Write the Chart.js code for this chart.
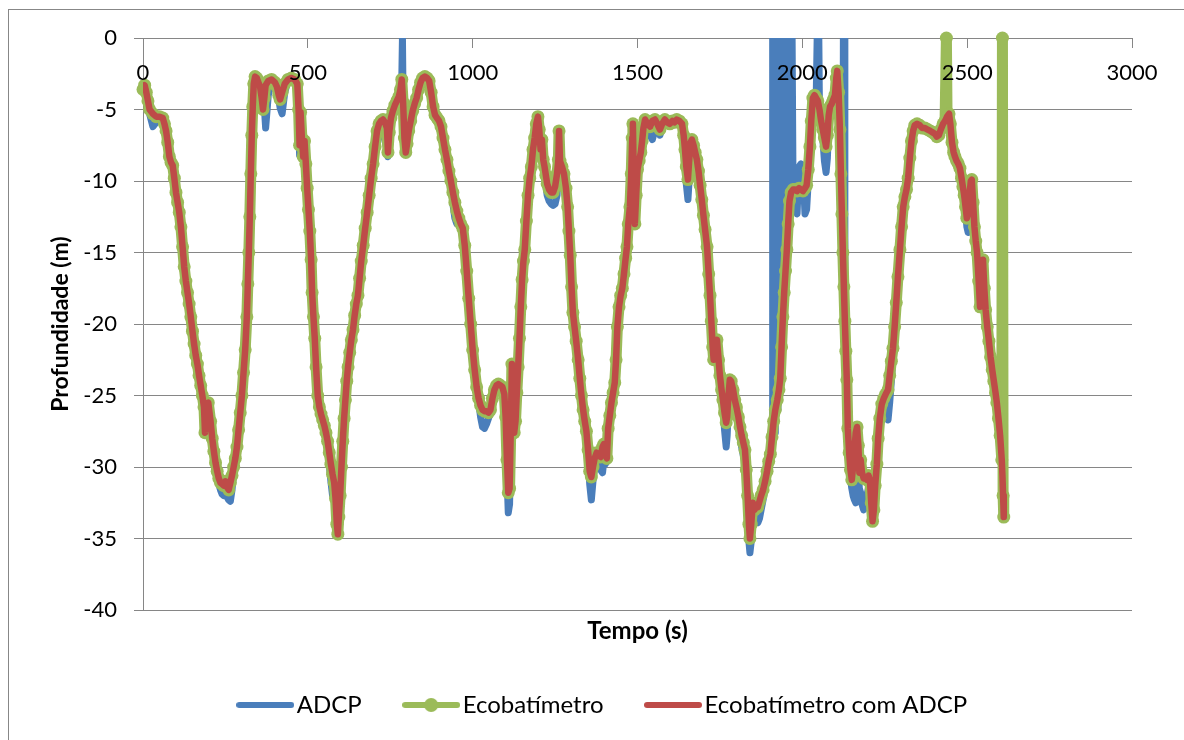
<!DOCTYPE html>
<html><head><meta charset="utf-8">
<script src="https://cdn.jsdelivr.net/npm/chart.js@4.4.1/dist/chart.umd.min.js"></script>
<style>
html,body{margin:0;padding:0;background:#fff;}
#wrap{position:relative;width:1184px;height:740px;overflow:hidden;background:#fff;}
#frame{position:absolute;left:8px;top:9px;width:1220px;height:780px;border-left:1px solid #878787;border-top:1px solid #878787;}
canvas{position:absolute;left:0;top:0;}
</style></head><body>
<div id="wrap"><div id="frame"></div><canvas id="c" width="1184" height="740"></canvas></div>
<script>
// ---- data ----
const tempo = [
0,5,10,15,20,30,40,50,60,65,
70,75,80,85,90,95,100,105,110,115,
120,125,130,135,140,145,150,155,160,165,
170,175,180,185,188,192,198,205,210,215,
220,225,230,235,240,245,250,255,260,265,
270,275,280,285,290,295,300,305,310,315,
318,321,324,327,330,333,336,340,345,350,
355,360,364,368,372,380,390,400,406,412,
416,422,430,440,450,460,468,472,475,478,
482,486,490,494,498,502,506,510,513,517,
521,525,530,535,540,545,550,555,560,565,
570,575,580,584,588,591,594,598,602,606,
610,614,618,622,627,632,637,642,647,652,
657,662,668,674,680,686,692,698,704,710,
716,722,728,734,740,743,747,752,758,764,
770,776,781,785,789,793,797,801,806,812,
818,824,830,836,842,848,855,862,868,874,
880,886,892,898,904,910,916,922,928,934,
940,946,952,958,964,970,976,982,988,994,
1000,1006,1012,1018,1024,1030,1036,1042,1048,1054,
1060,1066,1072,1078,1084,1090,1096,1100,1104,1108,
1112,1116,1119,1122,1126,1130,1134,1138,1142,1146,
1150,1154,1158,1163,1168,1173,1178,1183,1188,1193,
1198,1202,1206,1210,1214,1218,1222,1226,1232,1238,
1244,1250,1256,1260,1262,1265,1271,1277,1283,1288,
1292,1296,1300,1304,1309,1314,1320,1325,1330,1335,
1340,1345,1350,1355,1360,1365,1370,1376,1382,1388,
1394,1398,1402,1407,1411,1416,1421,1426,1431,1435,
1439,1444,1449,1454,1459,1464,1468,1472,1477,1481,
1484,1486,1489,1492,1496,1500,1505,1510,1514,1518,
1523,1530,1538,1545,1553,1560,1568,1575,1583,1590,
1598,1606,1612,1619,1627,1635,1640,1644,1648,1653,
1657,1661,1665,1670,1675,1680,1685,1690,1695,1700,
1705,1711,1716,1720,1724,1728,1731,1735,1741,1746,
1750,1755,1759,1764,1769,1772,1776,1780,1784,1790,
1795,1800,1806,1811,1816,1821,1826,1830,1834,1838,
1841,1845,1850,1855,1860,1865,1870,1875,1881,1887,
1893,1898,1903,1908,1913,1918,1924,1929,1933,1937,
1941,1945,1949,1953,1957,1961,1966,1972,1978,1984,
1990,1996,2002,2008,2013,2018,2023,2027,2032,2037,
2042,2047,2052,2057,2062,2067,2072,2076,2080,2084,
2089,2094,2099,2103,2106,2110,2114,2117,2120,2123,
2126,2129,2132,2135,2138,2142,2146,2150,2154,2158,
2162,2166,2170,2173,2177,2181,2186,2191,2196,2201,
2205,2209,2213,2217,2221,2226,2230,2235,2241,2247,
2253,2260,2265,2270,2275,2280,2285,2290,2296,2301,
2306,2311,2316,2321,2326,2331,2336,2341,2348,2356,
2364,2372,2380,2388,2395,2402,2408,2414,2420,2427,
2433,2437,2439,2445,2449,2454,2459,2463,2468,2473,
2478,2483,2487,2491,2495,2499,2503,2507,2511,2514,
2518,2522,2526,2530,2535,2539,2543,2548,2552,2556,
2561,2566,2571,2576,2581,2586,2590,2595,2600,2605,
2607,2609,2611
];

const profEcoComADCP = [
-3.6,-3.3,-3.8,-4.4,-5.0,-5.3,-5.5,-5.5,-5.6,-6.0,
-6.5,-7.3,-8.3,-8.7,-8.9,-9.8,-10.8,-11.5,-12.2,-13.2,
-14.6,-16.0,-17.0,-17.8,-18.6,-19.5,-20.5,-21.4,-22.2,-22.8,
-23.6,-24.3,-25.0,-25.8,-27.6,-25.6,-25.5,-26.8,-28.0,-28.9,
-29.7,-30.3,-30.8,-31.1,-31.2,-31.3,-31.0,-31.4,-31.6,-31.1,
-30.6,-30.0,-29.4,-28.6,-27.4,-26.2,-25.0,-23.4,-21.8,-19.5,
-17.2,-15.0,-12.5,-9.5,-6.8,-4.8,-3.2,-2.7,-2.8,-3.1,
-3.4,-4.2,-5.0,-4.2,-3.3,-3.0,-2.9,-3.1,-3.4,-4.0,
-4.3,-3.8,-3.2,-2.9,-2.8,-2.9,-3.2,-5.0,-7.5,-5.2,
-7.0,-8.3,-7.2,-8.8,-10.5,-12.0,-13.5,-15.5,-17.8,-19.5,
-21.0,-23.0,-25.0,-25.8,-26.3,-26.7,-27.1,-27.6,-28.2,-29.0,
-29.8,-30.5,-31.1,-32.2,-34.0,-34.7,-33.5,-32.0,-30.0,-28.2,
-26.6,-25.3,-24.0,-23.0,-22.0,-21.1,-20.4,-19.4,-18.6,-18.0,
-16.8,-15.6,-14.5,-13.3,-12.2,-11.0,-9.8,-8.8,-7.6,-6.5,
-6.0,-5.8,-5.7,-5.9,-6.3,-8.0,-6.6,-5.6,-5.1,-4.7,
-4.4,-4.1,-3.6,-2.9,-4.5,-7.0,-8.0,-7.4,-6.5,-5.8,
-5.1,-4.6,-4.2,-3.6,-3.1,-2.8,-2.7,-2.8,-3.0,-3.8,
-4.8,-5.4,-5.6,-5.8,-6.2,-7.0,-7.8,-8.5,-9.3,-10.0,
-10.8,-11.5,-12.1,-12.6,-13.0,-13.3,-14.5,-16.3,-18.2,-20.0,
-21.8,-23.2,-24.4,-25.2,-25.7,-26.0,-26.1,-26.1,-26.2,-26.0,
-25.2,-24.6,-24.3,-24.2,-24.3,-24.4,-24.9,-26.5,-29.5,-31.8,
-31.5,-27.0,-22.8,-25.5,-27.6,-26.8,-24.8,-23.0,-21.0,-18.8,
-16.9,-15.6,-14.8,-12.8,-11.0,-9.8,-9.0,-7.8,-7.0,-6.0,
-5.5,-6.4,-7.8,-7.1,-8.5,-9.0,-9.6,-10.2,-10.6,-10.8,
-10.8,-10.4,-9.5,-8.5,-6.5,-8.6,-9.0,-9.5,-10.5,-11.8,
-13.5,-15.2,-17.4,-19.2,-20.2,-21.2,-22.5,-23.8,-25.0,-26.0,
-26.8,-27.5,-28.8,-30.3,-30.7,-30.0,-29.4,-29.0,-29.2,-29.3,
-28.6,-28.4,-29.0,-29.4,-27.3,-26.4,-25.5,-24.8,-24.1,-22.5,
-20.2,-18.8,-18.0,-17.5,-16.5,-15.4,-14.6,-13.0,-11.8,-9.5,
-7.0,-6.0,-10.0,-13.0,-11.0,-9.2,-8.6,-8.0,-7.2,-6.3,
-5.7,-6.0,-6.2,-5.8,-5.7,-6.0,-6.4,-6.0,-5.7,-5.9,
-6.0,-5.8,-5.9,-5.7,-5.8,-6.0,-6.8,-7.8,-9.0,-9.9,
-8.5,-7.3,-7.1,-7.5,-8.0,-8.5,-9.3,-10.3,-11.3,-12.4,
-13.4,-14.6,-16.5,-18.0,-19.8,-21.6,-22.5,-21.5,-21.1,-22.5,
-23.6,-24.6,-25.3,-26.2,-26.9,-26.5,-25.0,-23.9,-24.0,-24.6,
-25.3,-25.8,-26.5,-27.2,-27.8,-28.3,-28.8,-30.2,-32.0,-34.0,
-35.0,-34.0,-32.5,-33.0,-32.7,-32.8,-32.4,-32.0,-31.6,-31.0,
-30.3,-29.6,-29.1,-27.9,-26.8,-26.0,-25.3,-24.6,-23.8,-21.6,
-19.5,-17.8,-16.3,-14.8,-13.0,-11.4,-10.8,-10.6,-10.6,-10.7,
-10.5,-10.6,-10.7,-10.5,-10.3,-9.2,-7.6,-5.8,-4.2,-4.0,
-4.2,-4.4,-5.0,-5.8,-6.4,-7.0,-7.6,-6.8,-5.4,-4.8,
-4.6,-4.3,-4.0,-2.8,-2.3,-3.8,-6.4,-9.5,-12.3,-15.0,
-17.4,-19.8,-21.9,-23.9,-27.3,-29.0,-30.2,-30.9,-30.0,-28.8,
-27.6,-27.2,-28.5,-30.4,-29.5,-30.4,-30.8,-30.7,-30.9,-30.6,
-30.9,-32.5,-33.8,-33.0,-31.3,-29.8,-28.0,-26.6,-25.6,-25.2,
-24.9,-24.6,-23.6,-22.6,-21.7,-20.2,-18.5,-16.7,-14.8,-13.2,
-11.8,-11.1,-10.6,-9.8,-8.4,-7.2,-6.5,-6.1,-6.0,-6.1,
-6.3,-6.3,-6.4,-6.5,-6.6,-6.7,-6.9,-6.8,-6.4,-6.0,
-5.8,-5.6,-5.5,-5.3,-6.0,-7.3,-8.0,-8.3,-8.6,-8.8,
-9.1,-9.8,-10.4,-11.0,-11.8,-12.6,-12.2,-11.0,-10.0,-9.9,
-11.5,-13.2,-14.2,-15.0,-17.0,-18.8,-17.0,-15.5,-17.5,-19.0,
-20.2,-21.2,-22.3,-23.2,-24.0,-24.8,-25.5,-26.6,-27.8,-29.5,
-30.6,-32.0,-33.5
];

const profEcobatimetro = [
-3.6,-3.3,-3.8,-4.4,-5.0,-5.3,-5.5,-5.5,-5.6,-6.0,
-6.5,-7.3,-8.3,-8.7,-8.9,-9.8,-10.8,-11.5,-12.2,-13.2,
-14.6,-16.0,-17.0,-17.8,-18.6,-19.5,-20.5,-21.4,-22.2,-22.8,
-23.6,-24.3,-25.0,-25.8,-27.6,-25.6,-25.5,-26.8,-28.0,-28.9,
-29.7,-30.3,-30.8,-31.1,-31.2,-31.3,-31.0,-31.4,-31.6,-31.1,
-30.6,-30.0,-29.4,-28.6,-27.4,-26.2,-25.0,-23.4,-21.8,-19.5,
-17.2,-15.0,-12.5,-9.5,-6.8,-4.8,-3.2,-2.7,-2.8,-3.1,
-3.4,-4.2,-5.0,-4.2,-3.3,-3.0,-2.9,-3.1,-3.4,-4.0,
-4.3,-3.8,-3.2,-2.9,-2.8,-2.9,-3.2,-5.0,-7.5,-5.2,
-7.0,-8.3,-7.2,-8.8,-10.5,-12.0,-13.5,-15.5,-17.8,-19.5,
-21.0,-23.0,-25.0,-25.8,-26.3,-26.7,-27.1,-27.6,-28.2,-29.0,
-29.8,-30.5,-31.1,-32.2,-34.0,-34.7,-33.5,-32.0,-30.0,-28.2,
-26.6,-25.3,-24.0,-23.0,-22.0,-21.1,-20.4,-19.4,-18.6,-18.0,
-16.8,-15.6,-14.5,-13.3,-12.2,-11.0,-9.8,-8.8,-7.6,-6.5,
-6.0,-5.8,-5.7,-5.9,-6.3,-8.0,-6.6,-5.6,-5.1,-4.7,
-4.4,-4.1,-3.6,-2.9,-4.5,-7.0,-8.0,-7.4,-6.5,-5.8,
-5.1,-4.6,-4.2,-3.6,-3.1,-2.8,-2.7,-2.8,-3.0,-3.8,
-4.8,-5.4,-5.6,-5.8,-6.2,-7.0,-7.8,-8.5,-9.3,-10.0,
-10.8,-11.5,-12.1,-12.6,-13.0,-13.3,-14.5,-16.3,-18.2,-20.0,
-21.8,-23.2,-24.4,-25.2,-25.7,-26.0,-26.1,-26.1,-26.2,-26.0,
-25.2,-24.6,-24.3,-24.2,-24.3,-24.4,-24.9,-26.5,-29.5,-31.8,
-31.5,-27.0,-22.8,-25.5,-27.6,-26.8,-24.8,-23.0,-21.0,-18.8,
-16.9,-15.6,-14.8,-12.8,-11.0,-9.8,-9.0,-7.8,-7.0,-6.0,
-5.5,-6.4,-7.8,-7.1,-8.5,-9.0,-9.6,-10.2,-10.6,-10.8,
-10.8,-10.4,-9.5,-8.5,-6.5,-8.6,-9.0,-9.5,-10.5,-11.8,
-13.5,-15.2,-17.4,-19.2,-20.2,-21.2,-22.5,-23.8,-25.0,-26.0,
-26.8,-27.5,-28.8,-30.3,-30.7,-30.0,-29.4,-29.0,-29.2,-29.3,
-28.6,-28.4,-29.0,-29.4,-27.3,-26.4,-25.5,-24.8,-24.1,-22.5,
-20.2,-18.8,-18.0,-17.5,-16.5,-15.4,-14.6,-13.0,-11.8,-9.5,
-7.0,-6.0,-10.0,-13.0,-11.0,-9.2,-8.6,-8.0,-7.2,-6.3,
-5.7,-6.0,-6.2,-5.8,-5.7,-6.0,-6.4,-6.0,-5.7,-5.9,
-6.0,-5.8,-5.9,-5.7,-5.8,-6.0,-6.8,-7.8,-9.0,-9.9,
-8.5,-7.3,-7.1,-7.5,-8.0,-8.5,-9.3,-10.3,-11.3,-12.4,
-13.4,-14.6,-16.5,-18.0,-19.8,-21.6,-22.5,-21.5,-21.1,-22.5,
-23.6,-24.6,-25.3,-26.2,-26.9,-26.5,-25.0,-23.9,-24.0,-24.6,
-25.3,-25.8,-26.5,-27.2,-27.8,-28.3,-28.8,-30.2,-32.0,-34.0,
-35.0,-34.0,-32.5,-33.0,-32.7,-32.8,-32.4,-32.0,-31.6,-31.0,
-30.3,-29.6,-29.1,-27.9,-26.8,-26.0,-25.3,-24.6,-23.8,-21.6,
-19.5,-17.8,-16.3,-14.8,-13.0,-11.4,-10.8,-10.6,-10.6,-10.7,
-10.5,-10.6,-10.7,-10.5,-10.3,-9.2,-7.6,-5.8,-4.2,-4.0,
-4.2,-4.4,-5.0,-5.8,-6.4,-7.0,-7.6,-6.8,-5.4,-4.8,
-4.6,-4.3,-4.0,-2.8,-2.3,-3.8,-6.4,-9.5,-12.3,-15.0,
-17.4,-19.8,-21.9,-23.9,-27.3,-29.0,-30.2,-30.9,-30.0,-28.8,
-27.6,-27.2,-28.5,-30.4,-29.5,-30.4,-30.8,-30.7,-30.9,-30.6,
-30.9,-32.5,-33.8,-33.0,-31.3,-29.8,-28.0,-26.6,-25.6,-25.2,
-24.9,-24.6,-23.6,-22.6,-21.7,-20.2,-18.5,-16.7,-14.8,-13.2,
-11.8,-11.1,-10.6,-9.8,-8.4,-7.2,-6.5,-6.1,-6.0,-6.1,
-6.3,-6.3,-6.4,-6.5,-6.6,-6.7,-6.9,-6.8,-6.4,-6.0,
-5.8,0,-5.5,-5.3,-6.0,-7.3,-8.0,-8.3,-8.6,-8.8,
-9.1,-9.8,-10.4,-11.0,-11.8,-12.6,-12.2,-11.0,-10.0,-9.9,
-11.5,-13.2,-14.2,-15.0,-17.0,-18.8,-17.0,-15.5,-17.5,-19.0,
-20.2,-21.2,-22.3,-23.2,-24.0,-24.8,-25.5,-26.6,-27.8,-29.5,
0,-32.0,-33.5
];

const profADCP = [
-3.6,-3.3,-3.8,-4.4,-5.3,-6.2,-5.9,-5.6,-5.7,-6.0,
-6.5,-7.3,-8.3,-8.7,-8.9,-9.8,-10.8,-11.5,-12.2,-13.2,
-14.6,-16.0,-17.0,-17.8,-18.6,-19.5,-20.5,-21.4,-22.2,-22.8,
-23.6,-24.3,-25.0,-26.9,-27.6,-25.8,-25.6,-26.9,-28.1,-29.0,
-29.8,-30.4,-31.2,-31.6,-31.9,-32.0,-31.8,-32.1,-32.3,-32.4,
-31.6,-30.4,-29.6,-28.7,-27.4,-26.2,-25.0,-23.4,-21.8,-19.5,
-17.2,-15.0,-12.5,-9.5,-6.8,-4.8,-3.2,-2.7,-2.8,-3.1,
-3.4,-4.2,-5.0,-4.8,-6.3,-4.0,-3.0,-3.2,-3.6,-4.3,
-4.9,-5.3,-3.8,-3.0,-2.9,-3.0,-3.4,-5.5,-8.2,-5.6,
-7.0,-8.3,-7.2,-8.8,-10.5,-12.0,-13.5,-15.5,-17.8,-19.5,
-21.0,-23.0,-25.0,-25.8,-26.3,-26.7,-27.1,-27.6,-28.2,-29.8,
-31.0,-32.0,-31.8,-32.6,-34.2,-34.8,-33.6,-32.0,-30.0,-28.2,
-26.6,-25.3,-24.0,-23.0,-22.0,-21.1,-20.4,-19.4,-18.6,-18.0,
-16.8,-15.6,-14.5,-13.3,-12.2,-11.0,-9.8,-8.8,-7.6,-6.5,
-6.0,-6.0,-6.6,-7.2,-7.8,-8.3,-7.5,-6.2,-5.4,-4.9,
-4.4,-4.1,-3.6,-2.9,-4.5,-7.0,-8.0,-7.4,-6.5,-5.8,
-5.1,-4.6,-4.2,-3.6,-3.1,-2.8,-2.7,-2.8,-3.0,-3.8,
-4.8,-5.4,-5.6,-5.8,-6.2,-7.0,-7.8,-8.5,-9.3,-10.0,
-11.6,-12.6,-13.0,-12.8,-13.1,-13.4,-14.6,-16.4,-18.3,-20.1,
-21.8,-23.2,-24.4,-25.4,-26.5,-27.2,-27.3,-27.0,-26.6,-26.2,
-25.2,-24.6,-24.3,-24.2,-24.3,-24.4,-24.9,-27.0,-30.5,-33.2,
-32.6,-27.5,-23.0,-25.8,-27.8,-27.0,-24.8,-23.0,-21.0,-18.8,
-16.9,-15.6,-14.8,-12.8,-11.0,-9.8,-9.0,-7.8,-7.0,-6.0,
-5.5,-6.6,-8.2,-7.5,-8.9,-9.6,-10.3,-11.0,-11.4,-11.6,
-11.7,-11.6,-11.0,-9.0,-6.6,-8.8,-9.2,-9.6,-10.6,-11.9,
-13.5,-15.2,-17.4,-19.2,-20.2,-21.2,-22.5,-23.8,-25.0,-26.0,
-26.8,-27.6,-29.0,-31.2,-32.3,-31.0,-29.9,-29.4,-29.8,-30.2,
-30.4,-29.5,-29.8,-29.6,-27.4,-26.6,-25.7,-25.0,-24.2,-22.6,
-20.2,-18.8,-18.0,-17.5,-16.5,-15.4,-14.6,-13.0,-11.8,-9.5,
-7.0,-6.0,-10.0,-13.0,-11.0,-9.2,-8.6,-8.0,-7.2,-6.3,
-5.7,-6.2,-6.8,-7.1,-6.4,-6.2,-6.8,-6.3,-5.9,-6.0,
-6.0,-5.9,-6.0,-5.8,-5.9,-6.1,-7.0,-8.3,-10.2,-11.3,
-9.8,-7.8,-7.2,-7.6,-8.1,-8.6,-9.4,-10.4,-11.4,-12.5,
-13.4,-14.6,-16.5,-18.0,-19.8,-21.6,-22.5,-21.5,-21.1,-22.5,
-23.8,-24.9,-25.7,-27.4,-28.6,-27.8,-25.6,-24.2,-24.3,-25.0,
-25.8,-26.4,-27.2,-28.0,-28.6,-29.2,-29.6,-31.0,-33.0,-35.2,
-36.0,-35.2,-33.4,-33.8,-33.5,-33.9,-33.6,-33.0,-32.3,-31.5,
-30.6,-29.9,-29.4,-28.4,-27.6,-27.6,-26.0,-25.0,-24.2,-22.0,
-19.8,-18.0,-16.5,-15.0,-13.2,-11.8,-11.5,-11.2,-11.8,-12.3,
-9.0,-8.8,-9.2,-12.3,-12.0,-10.0,-7.8,-6.0,-4.4,-4.0,
-4.2,-4.4,-5.2,-6.2,-7.0,-8.6,-9.4,-8.4,-6.0,-5.0,
-4.6,-4.3,-4.0,-2.8,-2.3,-3.8,-6.4,-9.5,-12.3,-15.0,
-17.4,-19.8,-21.9,-23.9,-27.6,-29.5,-30.8,-31.5,-32.0,-32.3,
-32.5,-31.8,-30.5,-31.5,-31.8,-32.6,-33.0,-32.6,-32.0,-31.4,
-31.2,-32.8,-33.9,-33.2,-31.5,-30.0,-28.4,-27.2,-26.4,-26.4,
-26.2,-26.7,-25.5,-24.0,-22.2,-20.4,-18.6,-16.8,-14.9,-13.3,
-11.8,-11.1,-10.6,-9.8,-8.4,-7.2,-6.5,-6.1,-6.0,-6.1,
-6.3,-6.3,-6.4,-6.5,-6.6,-6.7,-6.9,-6.8,-6.4,-6.0,
-5.8,-5.6,-5.5,-5.3,-6.0,-7.3,-8.0,-8.3,-8.6,-8.8,
-9.2,-9.9,-10.6,-11.2,-12.0,-13.2,-13.6,-12.0,-10.6,-10.2,
-11.8,-13.4,-14.4,-15.1,-17.0,-18.8,-17.0,-15.5,-17.5,-19.0,
-20.2,-21.2,-22.3,-23.2,-24.0,-24.8,-25.5,-26.6,-27.8,-29.5,
-30.6,-32.0,-33.5
];

// ADCP readings that jump to the surface (0 m)
const picosTempoADCP = [787,1910,1913.5,1917,1921,1926,1931,1935,1939,1943,1947,1951,1955,1959,1969,2045,2050,2124.5,2127.5];
const picosProfADCP  = [0,0,0,0,0,0,0,0,0,0,0,0,0,0,0,0,0,0,0];

const ticksX = [0,500,1000,1500,2000,2500,3000];
const ticksY = [0,-5,-10,-15,-20,-25,-30,-35,-40];
const nomes = ['ADCP','Ecobatímetro','Ecobatímetro com ADCP'];

// ---- chart ----
const AZUL = '#4A7EBB', VERDE = '#9BBB59', VERMELHO = '#BE4B48', GRADE = '#868686';
const LEG_DX = -31;

function pares(xs, ys){ return xs.map((x,i)=>({x:x, y:ys[i]})); }
const dadosADCP = pares(tempo, profADCP).concat(pares(picosTempoADCP, picosProfADCP)).sort((a,b)=>a.x-b.x);

function imgLegenda(cor, marcador){
  const c = document.createElement('canvas'); c.width = 58; c.height = 16;
  const g = c.getContext('2d');
  g.strokeStyle = cor; g.lineWidth = 6; g.lineCap = 'round';
  g.beginPath(); g.moveTo(3,8); g.lineTo(55,8); g.stroke();
  if (marcador){ g.fillStyle = cor; g.beginPath(); g.arc(29,8,7,0,Math.PI*2); g.fill(); }
  return c;
}
const imgs = [imgLegenda(AZUL,false), imgLegenda(VERDE,true), imgLegenda(VERMELHO,false)];

const desloca = { id:'desloca', afterLayout(chart){ const l = chart.legend; if (l){ l.left += LEG_DX; l.right += LEG_DX; } } };

function desenha(){
  Chart.defaults.font.family = 'Lato';
  Chart.defaults.color = '#000';
  new Chart(document.getElementById('c'), {
    type: 'line',
    data: { datasets: [
      { label: nomes[0], data: dadosADCP, borderColor: AZUL, backgroundColor: AZUL, borderWidth: 7,
        pointRadius: 0, borderJoinStyle: 'round', borderCapStyle: 'round', order: 3, clip: 0, xAxisID:'x', yAxisID:'y' },
      { label: nomes[1], data: pares(tempo, profEcobatimetro), borderColor: VERDE, backgroundColor: VERDE, borderWidth: 11,
        pointRadius: 6.5, pointBackgroundColor: VERDE, pointBorderWidth: 0, borderJoinStyle: 'round', borderCapStyle: 'round', order: 2, clip: 10, xAxisID:'x', yAxisID:'y' },
      { label: nomes[2], data: pares(tempo, profEcoComADCP), borderColor: VERMELHO, backgroundColor: VERMELHO, borderWidth: 6.5,
        pointRadius: 0, borderJoinStyle: 'round', borderCapStyle: 'round', order: 1, xAxisID:'x', yAxisID:'y' }
    ]},
    options: {
      responsive: false, animation: false, events: [],
      layout: { padding: { left: 43, right: 52, top: 38, bottom: 13 } },
      plugins: {
        tooltip: { enabled: false },
        legend: {
          position: 'bottom', fullSize: false,
          labels: {
            usePointStyle: true, pointStyleWidth: 39, padding: 50,
            font: { family: 'Lato', size: 24 }, color: '#000',
            sort: (a,b) => a.datasetIndex - b.datasetIndex,
            generateLabels(chart){
              const it = Chart.defaults.plugins.legend.labels.generateLabels(chart);
              it.forEach(o => { o.pointStyle = imgs[o.datasetIndex]; o.lineWidth = 0; });
              return it;
            }
          }
        }
      },
      scales: {
        x: {
          type: 'linear', position: { y: 0 }, min: 0, max: 3000,
          afterBuildTicks: s => { s.ticks = ticksX.map(v => ({ value: v })); },
          ticks: { z: 1, font: { size: 22 }, color: '#000', padding: 13, maxRotation: 0, callback: v => String(v) },
          grid: { display: true, drawOnChartArea: false, drawTicks: true, tickLength: 9, color: GRADE },
          border: { display: true, color: GRADE, width: 1 }
        },
        xt: {
          axis: 'x', type: 'linear', position: 'bottom', min: 0, max: 1,
          ticks: { display: false }, grid: { display: false }, border: { display: false },
          title: { display: true, text: 'Tempo (s)', color: '#000', font: { size: 24, weight: 'bold', lineHeight: 1 }, padding: { top: 0, bottom: 0 } },
          afterFit: s => { s.height = 33; }
        },
        y: {
          type: 'linear', position: 'left', min: -40, max: 0,
          afterBuildTicks: s => { s.ticks = ticksY.map(v => ({ value: v })); },
          ticks: { font: { size: 22 }, color: '#000', padding: 17, callback: v => String(v) },
          grid: { color: GRADE, drawTicks: true, tickLength: 9 },
          border: { display: true, color: GRADE, width: 1 },
          title: { display: true, text: 'Profundidade (m)', color: '#000', font: { size: 23, weight: 'bold', lineHeight: 1 }, padding: { top: 6, bottom: 0 } },
          afterFit: s => { s.width = 100; }
        }
      }
    },
    plugins: [desloca]
  });
}
if (document.fonts && document.fonts.load) {
  Promise.all([document.fonts.load('22px Lato'), document.fonts.load('bold 22px Lato')]).then(desenha, desenha);
} else { desenha(); }
</script>
</body></html>
